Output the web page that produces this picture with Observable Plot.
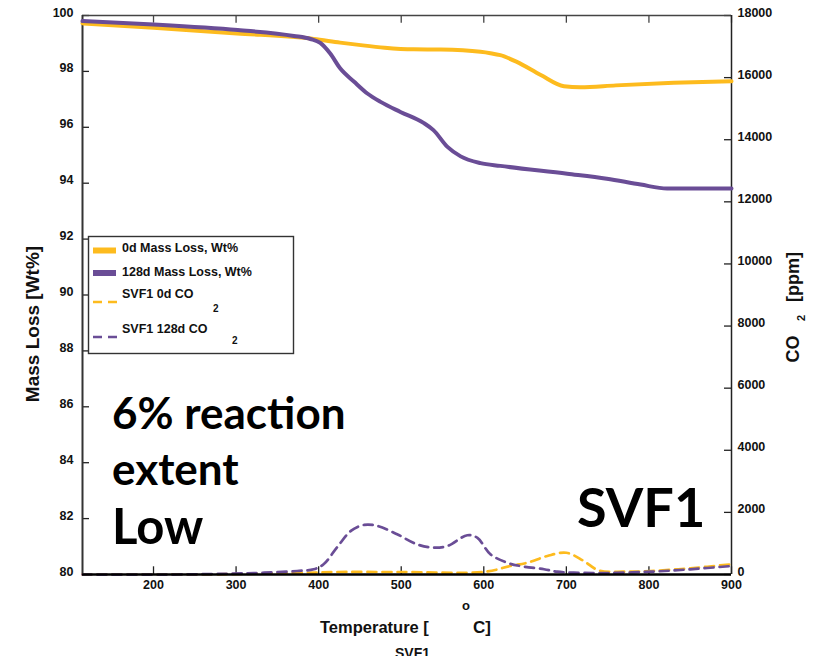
<!DOCTYPE html>
<html><head><meta charset="utf-8">
<script src="https://cdn.jsdelivr.net/npm/d3@7"></script>
<script src="https://cdn.jsdelivr.net/npm/@observablehq/plot@0.6"></script>
<style>
body{margin:0;background:#fff;}
#chart{position:relative;width:815px;height:656px;overflow:hidden;}
</style></head><body><div id="chart"></div>
<script>
// ---- data ----
const mass0Temp = [114, 200, 301, 394, 426, 451, 480, 515, 548, 596, 608, 620, 640, 669, 697, 717, 760, 830, 900];
const mass0Wt   = [99.72, 99.56, 99.36, 99.16, 99.03, 98.94, 98.85, 98.79, 98.78, 98.70, 98.65, 98.58, 98.34, 97.87, 97.47, 97.43, 97.50, 97.59, 97.65];

const mass128Temp = [114, 200, 302, 370, 390, 402, 414, 426, 443, 459, 475, 499, 527, 539, 556, 572, 596, 620, 701, 749, 790, 822, 900];
const mass128Wt   = [99.80, 99.68, 99.48, 99.27, 99.16, 99.02, 98.64, 98.11, 97.63, 97.21, 96.91, 96.55, 96.16, 95.90, 95.30, 94.96, 94.72, 94.62, 94.34, 94.16, 93.95, 93.81, 93.81];

const co2_0Temp = [114, 200, 290, 350, 394, 420, 500, 602, 632, 653, 677, 700, 721, 739, 770, 802, 850, 900];
const co2_0Ppm  = [0, 0, 10, 40, 60, 80, 80, 90, 274, 380, 597, 700, 435, 135, 90, 113, 200, 329];

const co2_128Temp = [114, 230, 293, 334, 374, 394, 406, 422, 439, 455, 471, 495, 519, 539, 556, 580, 592, 608, 628, 644, 673, 689, 709, 749, 802, 850, 900];
const co2_128Ppm  = [0, 0, 26, 58, 113, 168, 329, 865, 1403, 1597, 1565, 1297, 974, 865, 919, 1265, 1187, 652, 381, 274, 168, 90, 58, 48, 90, 168, 274];

const xTicks = [200, 300, 400, 500, 600, 700, 800, 900];
const yTicks = [80, 82, 84, 86, 88, 90, 92, 94, 96, 98, 100];
const co2Ticks = [0, 2000, 4000, 6000, 8000, 10000, 12000, 14000, 16000, 18000];

const seriesNames = ["0d Mass Loss, Wt%", "128d Mass Loss, Wt%", "SVF1 0d CO", "SVF1 128d CO"];
const YELLOW = "#FDBB1E", PURPLE = "#6A4D96";

// ---- build tables ----
const m0 = mass0Temp.map((t, i) => ({t, v: mass0Wt[i]}));
const m128 = mass128Temp.map((t, i) => ({t, v: mass128Wt[i]}));
const c0 = co2_0Temp.map((t, i) => ({t, p: co2_0Ppm[i]}));
const c128 = co2_128Temp.map((t, i) => ({t, p: co2_128Ppm[i]}));
const ppmToY = p => 80 + p / 900; // right axis 0..18000 maps onto 80..100
const tickLenX = 7 * 786 / 649;   // 7px in temperature units
const tickLenY = 7 * 20 / 559;    // 7px in wt% units

const ARIAL = "'Liberation Sans',Arial,sans-serif";

const plot = Plot.plot({
  width: 815, height: 656,
  marginLeft: 82, marginRight: 84, marginTop: 15, marginBottom: 82,
  style: {fontFamily: ARIAL, fontWeight: "bold", fontSize: "12.5px", color: "#111", background: "#fff"},
  x: {domain: [114, 900]},
  y: {domain: [80, 100]},
  marks: [
    Plot.axisX(xTicks, {anchor: "bottom", tickSize: 0, tickPadding: 6, label: null, tickFormat: d => String(d)}),
    Plot.axisY(yTicks, {anchor: "left", tickSize: 0, tickPadding: 9, dy: -3, label: null, tickFormat: d => String(d)}),
    Plot.axisY(co2Ticks.map(ppmToY), {anchor: "right", tickSize: 0, tickPadding: 6, dy: -3, label: null, tickFormat: d => String(Math.round((d - 80) * 900))}),
    // inward tick marks
    Plot.ruleX(xTicks, {x: d => d, y1: 80, y2: 80 + tickLenY * 1.1, stroke: "#222", strokeWidth: 1.3}),
    Plot.ruleX(xTicks, {x: d => d, y1: 100, y2: 100 - tickLenY * 1.1, stroke: "#444", strokeWidth: 1.3}),
    Plot.ruleY(yTicks, {y: d => d, x1: 114, x2: 114 + tickLenX, stroke: "#222", strokeWidth: 1.3}),
    Plot.ruleY(co2Ticks.map(ppmToY), {y: d => d, x1: 900, x2: 900 - tickLenX, stroke: "#222", strokeWidth: 1.3}),
    // frame
    Plot.ruleY([100], {stroke: "#444", strokeWidth: 1.3}),
    Plot.ruleX([900], {stroke: "#222", strokeWidth: 1.5}),
    Plot.ruleX([114], {stroke: "#333", strokeWidth: 2}),
    // data
    Plot.line(c0, {x: "t", y: d => ppmToY(d.p), stroke: YELLOW, strokeWidth: 2.7, strokeDasharray: "9,6", curve: "catmull-rom"}),
    Plot.line(c128, {x: "t", y: d => ppmToY(d.p), stroke: PURPLE, strokeWidth: 2.7, strokeDasharray: "9,6", curve: "catmull-rom"}),
    Plot.line(m0, {x: "t", y: "v", stroke: YELLOW, strokeWidth: 4, curve: "monotone-x"}),
    Plot.line(m128, {x: "t", y: "v", stroke: PURPLE, strokeWidth: 4, curve: "monotone-x"}),
    Plot.ruleY([80], {stroke: "#000", strokeWidth: 2.6})
  ]
});
document.getElementById("chart").appendChild(plot);

// ---- annotations, titles, legend ----
const svg = d3.select(plot);
const g = svg.append("g");
function txt(x, y, s, opts = {}) {
  const t = g.append("text").attr("x", x).attr("y", y).text(s)
    .attr("font-family", opts.family || ARIAL).attr("font-weight", "bold")
    .attr("font-size", opts.size || 13).attr("fill", opts.fill || "#111")
    .attr("text-anchor", opts.anchor || "start");
  if (opts.transform) t.attr("transform", opts.transform);
  return t;
}
// left title
txt(0, 0, "Mass Loss [Wt%]", {size: 19, anchor: "middle", transform: "translate(39,324) rotate(-90)"});
// right title: CO 2 [ppm]
txt(0, 0, "CO", {size: 18, anchor: "middle", transform: "translate(799,349) rotate(-90)"});
txt(0, 0, "2", {size: 11, anchor: "middle", transform: "translate(805,318) rotate(-90)"});
txt(0, 0, "[ppm]", {size: 18, anchor: "middle", transform: "translate(799,277) rotate(-90)"});
// bottom title
txt(320, 633, "Temperature [", {size: 16.5});
txt(462, 610, "o", {size: 13});
txt(473, 633, "C]", {size: 17});
txt(395, 658, "SVF1", {size: 14});
// big annotations
const BIG = "Lato,'Open Sans',sans-serif";
txt(112, 429, "6% reaction", {family: BIG, size: 44, fill: "#000"});
txt(112, 485, "extent", {family: BIG, size: 44, fill: "#000"});
txt(112, 544, "Low", {family: BIG, size: 49, fill: "#000"});
txt(577, 527, "SVF1", {family: BIG, size: 54, fill: "#000"});
// legend
g.append("rect").attr("x", 88.5).attr("y", 236.5).attr("width", 205).attr("height", 117)
  .attr("fill", "#fff").attr("stroke", "#333").attr("stroke-width", 1.4);
const legY = [250.5, 273, 302, 337];
const legTextY = [252, 276, 298, 333];
const legColor = [YELLOW, PURPLE, YELLOW, PURPLE];
legY.forEach((y, i) => {
  const l = g.append("line").attr("x1", 93).attr("x2", i < 2 ? 116 : 117).attr("y1", y).attr("y2", y)
    .attr("stroke", legColor[i]).attr("stroke-width", i < 2 ? 6 : 2.6);
  if (i >= 2) l.attr("stroke-dasharray", "9,6");
  txt(122, legTextY[i], seriesNames[i], {size: 12.5});
});
txt(213, 312, "2", {size: 10});
txt(232, 344, "2", {size: 10});
</script></body></html>
